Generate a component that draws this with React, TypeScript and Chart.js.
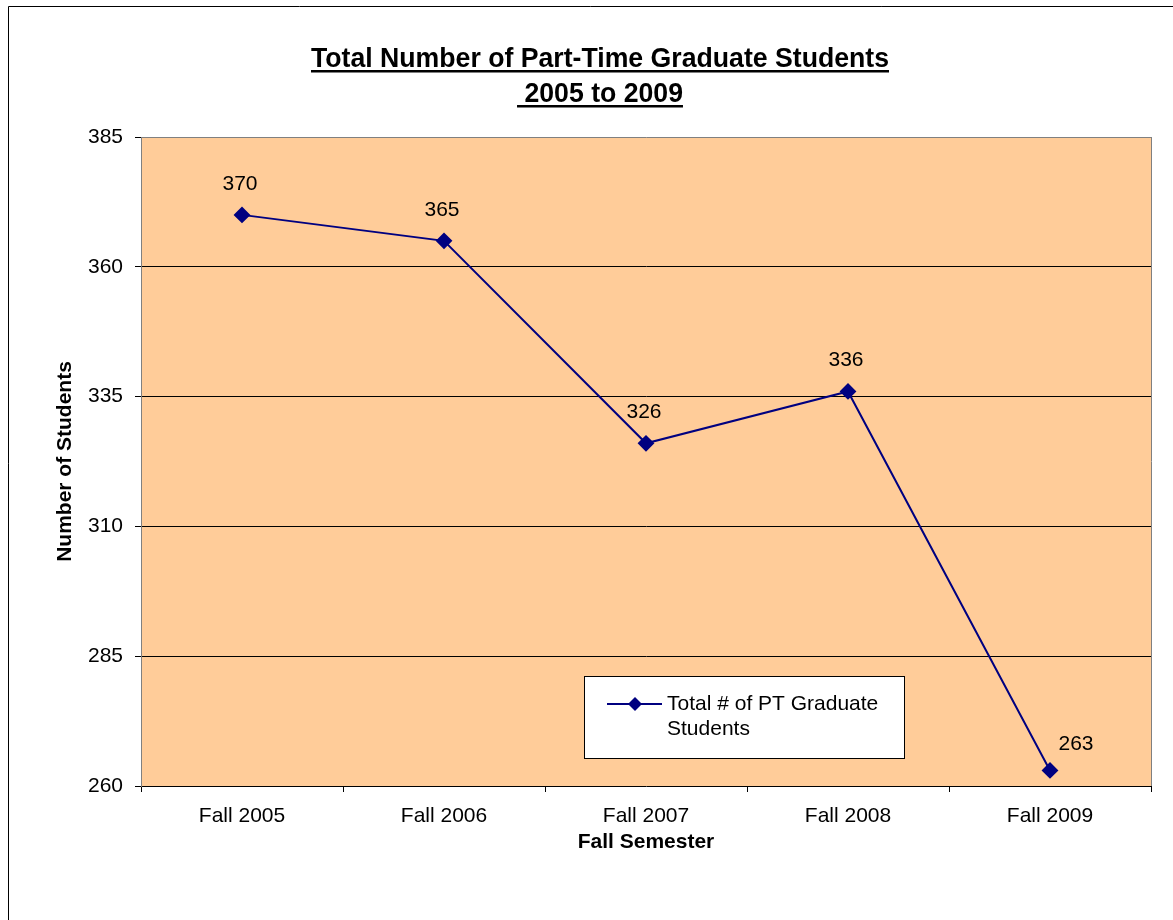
import { useEffect, useRef } from "react";
import { Chart, registerables } from "chart.js";

Chart.register(...registerables);

const categories = ["Fall 2005", "Fall 2006", "Fall 2007", "Fall 2008", "Fall 2009"];
const ptGraduateStudents = [370, 365, 326, 336, 263];
const seriesLegendLines = ["Total # of PT Graduate", "Students"];
const seriesName = "Total # of PT Graduate Students";
const titleLines = ["Total Number of Part-Time Graduate Students", " 2005 to 2009"];
const yAxisTitle = "Number of Students";
const xAxisTitle = "Fall Semester";
const yMin = 260;
const yMax = 385;
const yStep = 25;

const FONT = "'Liberation Sans', Arial, Helvetica, sans-serif";
const NAVY = "#000080";
const PLOT_BG = "#FFCC99";
const GRAY = "#808080";

const decorPlugin = {
  id: "decor",
  beforeDraw(chart: any) {
    const { ctx, chartArea: a } = chart;
    ctx.save();
    ctx.fillStyle = "#ffffff";
    ctx.fillRect(0, 0, chart.width, chart.height);
    // outer border
    ctx.strokeStyle = "#000";
    ctx.lineWidth = 1;
    ctx.beginPath();
    ctx.moveTo(8.5, chart.height);
    ctx.lineTo(8.5, 6.5);
    ctx.lineTo(chart.width, 6.5);
    ctx.stroke();
    // plot area
    ctx.fillStyle = PLOT_BG;
    ctx.fillRect(a.left, a.top, a.right - a.left, a.bottom - a.top);
    ctx.restore();
  },
  afterDatasetsDraw(chart: any) {
    const { ctx } = chart;
    const meta = chart.getDatasetMeta(0);
    const data = chart.data.datasets[0].data as number[];
    ctx.save();
    ctx.fillStyle = "#000";
    ctx.font = `21px ${FONT}`;
    ctx.textAlign = "center";
    ctx.textBaseline = "middle";
    const last = data.length - 1;
    meta.data.forEach((pt: any, i: number) => {
      const dx = i === last ? 26 : -2;
      const dy = i === last ? -26 : -31;
      ctx.fillText(String(data[i]), pt.x + dx, pt.y + dy);
    });
    ctx.restore();
  },
  afterDraw(chart: any) {
    const { ctx, chartArea: a } = chart;
    ctx.save();
    // right border of plot area
    ctx.strokeStyle = GRAY;
    ctx.lineWidth = 1;
    ctx.beginPath();
    ctx.moveTo(Math.round(a.right) + 0.5, a.top);
    ctx.lineTo(Math.round(a.right) + 0.5, a.bottom);
    ctx.stroke();

    // Title
    ctx.fillStyle = "#000";
    ctx.font = `bold 28px ${FONT}`;
    ctx.textBaseline = "alphabetic";
    ctx.textAlign = "left";
    const w0 = ctx.measureText(titleLines[0]).width;
    const sx = 578 / w0;
    const cx = 600;
    const baselines = [67, 102];
    titleLines.forEach((line, i) => {
      const w = ctx.measureText(line).width * sx;
      const x0 = cx - w / 2;
      ctx.save();
      ctx.translate(x0, baselines[i]);
      ctx.scale(sx, 1);
      ctx.fillText(line, 0, 0);
      ctx.restore();
      ctx.fillRect(x0, baselines[i] + 3, w, 2.5);
    });

    // Axis titles
    ctx.font = `bold 21px ${FONT}`;
    ctx.textAlign = "center";
    ctx.textBaseline = "middle";
    ctx.fillText(xAxisTitle, (a.left + a.right) / 2, 842);
    ctx.save();
    ctx.translate(65, (a.top + a.bottom) / 2);
    ctx.rotate(-Math.PI / 2);
    ctx.fillText(yAxisTitle, 0, 0);
    ctx.restore();

    // Legend
    const lx = 584.5, ly = 676.5, lw = 320, lh = 82;
    ctx.fillStyle = "#fff";
    ctx.fillRect(lx, ly, lw, lh);
    ctx.strokeStyle = "#000";
    ctx.lineWidth = 1;
    ctx.strokeRect(lx, ly, lw, lh);
    ctx.strokeStyle = NAVY;
    ctx.lineWidth = 2;
    ctx.beginPath();
    ctx.moveTo(607, 704);
    ctx.lineTo(662, 704);
    ctx.stroke();
    ctx.fillStyle = NAVY;
    ctx.beginPath();
    ctx.moveTo(635, 697);
    ctx.lineTo(642, 704);
    ctx.lineTo(635, 711);
    ctx.lineTo(628, 704);
    ctx.closePath();
    ctx.fill();
    ctx.fillStyle = "#000";
    ctx.font = `21px ${FONT}`;
    ctx.textAlign = "left";
    ctx.textBaseline = "middle";
    seriesLegendLines.forEach((t, i) => ctx.fillText(t, 667, 704 + i * 25));
    ctx.restore();
  },
};

export default function App() {
  const ref = useRef<HTMLCanvasElement | null>(null);
  useEffect(() => {
    if (!ref.current) return;
    const chart = new Chart(ref.current, {
      type: "line",
      data: {
        labels: categories,
        datasets: [
          {
            label: seriesName,
            data: ptGraduateStudents,
            borderColor: NAVY,
            backgroundColor: NAVY,
            borderWidth: 2,
            tension: 0,
            pointStyle: "rectRot",
            pointRadius: 7,
            pointHoverRadius: 7,
            pointBorderWidth: 2,
            pointBackgroundColor: NAVY,
            pointBorderColor: NAVY,
            fill: false,
          },
        ],
      },
      options: {
        responsive: false,
        animation: false,
        devicePixelRatio: 1,
        layout: { padding: { top: 137, right: 22, left: 0, bottom: 0 } },
        plugins: {
          legend: { display: false },
          title: { display: false },
          tooltip: { enabled: false },
        },
        scales: {
          x: {
            type: "category",
            offset: true,
            grid: {
              offset: true,
              drawOnChartArea: false,
              drawTicks: true,
              tickLength: 6,
              color: "#000",
              tickColor: "#000",
            },
            border: { color: "#000", width: 1 },
            ticks: {
              color: "#000",
              font: { family: FONT, size: 21 },
              padding: 12,
              maxRotation: 0,
              autoSkip: false,
            },
            afterFit: (s: any) => {
              s.height = 134;
            },
          },
          y: {
            min: yMin,
            max: yMax,
            ticks: {
              stepSize: yStep,
              color: "#000",
              font: { family: FONT, size: 21 },
              padding: 12,
            },
            grid: {
              color: (c: any) =>
                c.tick && c.tick.value === yMax
                  ? GRAY
                  : c.tick && c.tick.value === yMin
                  ? "rgba(0,0,0,0)"
                  : "#000",
              tickColor: "#000",
              tickLength: 6,
              lineWidth: 1,
            },
            border: { color: GRAY, width: 1 },
            afterFit: (s: any) => {
              s.width = 141;
            },
          },
        },
      },
      plugins: [decorPlugin],
    });
    return () => chart.destroy();
  }, []);
  return (
    <canvas
      ref={ref}
      width={1173}
      height={920}
      style={{ position: "absolute", left: 0, top: 0, display: "block" }}
    />
  );
}
